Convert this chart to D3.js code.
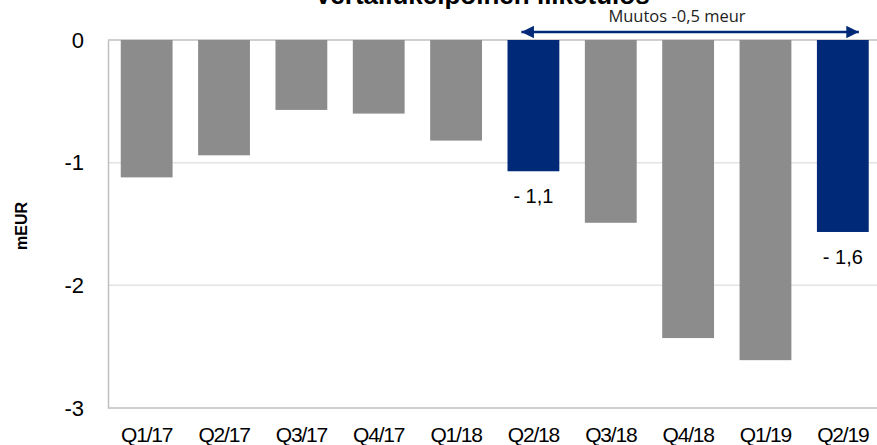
<!DOCTYPE html>
<html><head><meta charset="utf-8">
<script src="https://cdn.jsdelivr.net/npm/d3@7"></script>
<style>html,body{margin:0;padding:0;background:#fff;overflow:hidden}</style>
</head><body>
<svg id="c" width="877" height="445"></svg>
<script>
const categories = ["Q1/17","Q2/17","Q3/17","Q4/17","Q1/18","Q2/18","Q3/18","Q4/18","Q1/19","Q2/19"];
const values = [-1.12,-0.94,-0.57,-0.60,-0.82,-1.07,-1.49,-2.43,-2.61,-1.565];
const highlighted = ["Q2/18","Q2/19"];
const valueLabels = [{cat:"Q2/18", text:"- 1,1"},{cat:"Q2/19", text:"- 1,6"}];
const yTicks = [0,-1,-2,-3];
const titleText = "Vertailukelpoinen liiketulos";
const arrowText = "Muutos -0,5 meur";
const arrowFrom = "Q2/18", arrowTo = "Q2/19";

const svg = d3.select("#c");
const x = d3.scaleBand().domain(categories).range([108, 881.5]).paddingInner(0.33).paddingOuter(0.165);
const y = d3.scaleLinear().domain([-3, 0]).range([408, 40]);
const FONT = "Liberation Sans, Arial, sans-serif";

// gridlines
svg.append("g").selectAll("line").data(yTicks).join("line")
  .attr("x1", 108).attr("x2", 877)
  .attr("y1", d => y(d)).attr("y2", d => y(d))
  .attr("stroke", d => (d === 0 || d === -3) ? "#bfbfbf" : "#e3e3e3")
  .attr("stroke-width", 1.5);

// y axis
const yAxis = d3.axisLeft(y).tickValues(yTicks).tickSize(0).tickPadding(24).tickFormat(d => d === 0 ? "0" : "-" + Math.abs(d));
const gy = svg.append("g").attr("transform", "translate(108,0)").call(yAxis);
gy.select(".domain").attr("stroke", "#bfbfbf").attr("stroke-width", 1.5);
gy.selectAll("text").attr("font-family", FONT).attr("font-size", 22).attr("fill", "#000");

// bars
svg.append("g").selectAll("rect").data(categories).join("rect")
  .attr("x", d => x(d))
  .attr("width", x.bandwidth())
  .attr("y", (d,i) => y(0))
  .attr("height", (d,i) => y(values[i]) - y(0))
  .attr("fill", d => highlighted.includes(d) ? "#002a78" : "#8c8c8c");

// x axis labels
const xAxis = d3.axisBottom(x).tickSize(0).tickPadding(0);
const gx = svg.append("g").attr("transform", "translate(0,442)").call(xAxis);
gx.select(".domain").remove();
gx.selectAll("text").attr("font-family", FONT).attr("font-size", 21).attr("letter-spacing", "-1.2px")
  .attr("fill", "#000").attr("dy", "0").attr("y", 0);

// value labels
svg.append("g").selectAll("text").data(valueLabels).join("text")
  .attr("x", d => x(d.cat) + x.bandwidth()/2)
  .attr("y", d => y(values[categories.indexOf(d.cat)]) + 32)
  .attr("text-anchor", "middle")
  .attr("font-family", FONT).attr("font-size", 20).attr("fill", "#000")
  .text(d => d.text);

// y-axis title
svg.append("text").attr("transform", "translate(27,226) rotate(-90)")
  .attr("text-anchor", "middle").attr("font-family", FONT)
  .attr("font-weight", "bold").attr("font-size", 16).text("mEUR");

// chart title (clipped at top, as in the reference)
svg.append("text").attr("x", 482).attr("y", 4).attr("text-anchor", "middle")
  .attr("font-family", FONT).attr("font-weight", "bold").attr("font-size", 26)
  .text(titleText);

// arrow
const defs = svg.append("defs");
defs.append("marker").attr("id", "ah").attr("viewBox", "0 0 10 10").attr("refX", 10).attr("refY", 5)
  .attr("markerWidth", 5).attr("markerHeight", 5).attr("markerUnits", "strokeWidth").attr("orient", "auto-start-reverse")
  .append("path").attr("d", "M0,0 L10,5 L0,10 Z").attr("fill", "#002a78");
const ax1 = x(arrowFrom) + x.bandwidth()/2 - 12;
const ax2 = x(arrowTo) + x.bandwidth()/2 + 16;
svg.append("line").attr("x1", ax1).attr("x2", ax2).attr("y1", 32).attr("y2", 32)
  .attr("stroke", "#002a78").attr("stroke-width", 2.5)
  .attr("marker-start", "url(#ah)").attr("marker-end", "url(#ah)");
svg.append("text").attr("x", 677).attr("y", 22).attr("text-anchor", "middle")
  .attr("font-family", "Open Sans, Noto Sans, sans-serif").attr("font-size", 16.5).attr("fill", "#222")
  .text(arrowText);
</script>
</body></html>
